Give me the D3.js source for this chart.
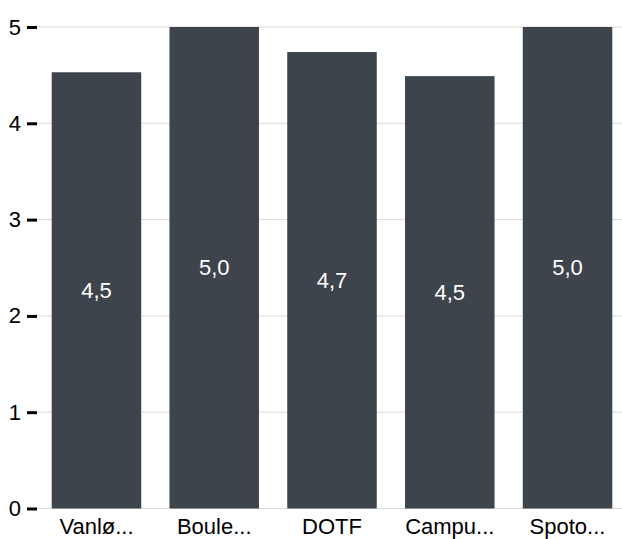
<!DOCTYPE html>
<html>
  <head>
    <script src="https://d3js.org/d3.v7.min.js"></script>
    <style>
      body { margin: 0; background: #fff; }
      text { font-family: "Liberation Sans", Arial, sans-serif; }
    </style>
  </head>
  <body>
    <div id="chart"></div>
  <script>
    var width = 622,
        height = 539;

    var categories = ["Vanlø...", "Boule...", "DOTF", "Campu...", "Spoto..."];
    var values = [4.53, 5.0, 4.74, 4.49, 5.0];
    var yTicks = [0, 1, 2, 3, 4, 5];

    var barColor = '#3e444b';

    var svg = d3.select("#chart").append("svg")
        .attr("width", width)
        .attr("height", height);

    var x = d3.scaleBand()
        .domain(categories)
        .range([37, 627])
        .paddingInner(0.24)
        .paddingOuter(0.125);

    var y = d3.scaleLinear()
        .domain([0, 5])
        .range([508.5, 27]);

    // grid lines
    svg.append("g")
      .selectAll("line")
      .data(yTicks)
      .enter()
      .append("line")
        .attr("x1", 37)
        .attr("x2", width)
        .attr("y1", d => y(d))
        .attr("y2", d => y(d))
        .attr("stroke", "#dadada")
        .attr("stroke-width", 1);

    // bars
    svg.append("g")
      .selectAll("rect")
      .data(values)
      .enter()
      .append("rect")
        .attr("x", (d, i) => x(categories[i]))
        .attr("y", d => y(d))
        .attr("width", x.bandwidth())
        .attr("height", d => y(0) - y(d))
        .attr("fill", barColor);

    // value labels in the middle of each bar
    svg.append("g")
      .selectAll("text")
      .data(values)
      .enter()
      .append("text")
        .attr("x", (d, i) => x(categories[i]) + x.bandwidth() / 2)
        .attr("y", d => (y(d) + y(0)) / 2)
        .attr("text-anchor", "middle")
        .attr("dominant-baseline", "central")
        .attr("fill", "#ffffff")
        .style("font-size", "22px")
        .text(d => d3.format(".1f")(d).replace(".", ","));

    // y axis
    var yAxis = d3.axisLeft(y)
        .tickValues(yTicks)
        .tickSize(10)
        .tickPadding(6)
        .tickFormat(d3.format("d"));

    var gy = svg.append("g")
        .attr("transform", "translate(37,0)")
        .call(yAxis);
    gy.select(".domain").remove();
    gy.selectAll(".tick line").attr("stroke", "#000").attr("stroke-width", 3);
    gy.selectAll(".tick text")
        .attr("fill", "#000")
        .style("font-size", "22px")
        .style("font-family", "'Liberation Sans', Arial, sans-serif");

    // x axis labels
    var xAxis = d3.axisBottom(x)
        .tickSize(0)
        .tickPadding(10);

    var gx = svg.append("g")
        .attr("transform", "translate(0,508.5)")
        .call(xAxis);
    gx.select(".domain").remove();
    gx.selectAll(".tick text")
        .attr("fill", "#000")
        .style("font-size", "22px")
        .style("font-family", "'Liberation Sans', Arial, sans-serif");
  </script>
  </body>
</html>
